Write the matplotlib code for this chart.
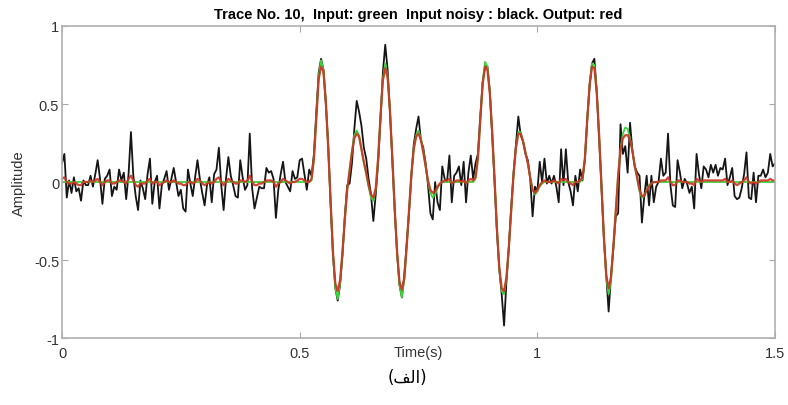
import numpy as np
import matplotlib.pyplot as plt

# sampling of the trace (s)
dt = 0.005

# noisy input (black), one value per sample from 0 to 1.5 s
noisy = [
    0.12, 0.18, -0.10, 0.01, -0.07, 0.03, -0.06, -0.04, -0.12, 0.01,
    -0.02, -0.02, 0.04, -0.03, 0.05, 0.14, 0.02, -0.14, 0.02, 0.04,
    0.08, -0.09, -0.03, -0.05, 0.08, 0.01, 0.06, -0.11, 0.05, 0.32,
    0.04, -0.09, -0.18, 0.01, -0.04, -0.11, 0.05, 0.15, -0.14, 0.00,
    0.04, -0.17, -0.02, 0.02, 0.07, -0.05, 0.02, 0.09, 0.00, -0.09,
    -0.05, -0.17, -0.19, 0.08, -0.01, -0.09, 0.03, 0.14, 0.02, -0.07,
    -0.15, -0.02, 0.03, -0.13, 0.05, 0.08, 0.22, -0.02, -0.18, 0.02,
    0.16, 0.04, -0.02, -0.09, -0.10, 0.14, 0.03, -0.05, -0.02, 0.31,
    -0.04, -0.17, -0.10, -0.03, -0.04, -0.04, 0.09, 0.06, 0.07, 0.02,
    -0.23, -0.05, 0.05, 0.13, 0.00, -0.03, -0.06, 0.07, 0.02, 0.03,
    0.14, 0.15, 0.05, -0.05, 0.08, 0.04, 0.18, 0.45, 0.70, 0.79,
    0.72, 0.50, 0.24, -0.14, -0.46, -0.68, -0.76, -0.66, -0.47, -0.22,
    -0.02, -0.01, 0.12, 0.34, 0.52, 0.45, 0.36, 0.22, 0.15, 0.02,
    -0.08, -0.25, -0.08, 0.12, 0.40, 0.70, 0.88, 0.72, 0.45, 0.14,
    -0.18, -0.46, -0.66, -0.74, -0.60, -0.40, -0.20, 0.04, 0.24, 0.34,
    0.42, 0.27, 0.22, 0.12, -0.02, -0.20, -0.24, 0.00, -0.13, -0.18,
    0.10, 0.02, 0.00, 0.17, -0.13, 0.04, 0.06, 0.10, -0.02, 0.13,
    -0.13, 0.06, 0.17, 0.02, 0.12, 0.18, 0.42, 0.64, 0.74, 0.74,
    0.58, 0.30, 0.00, -0.32, -0.56, -0.72, -0.92, -0.64, -0.42, -0.16,
    0.06, 0.24, 0.42, 0.30, 0.26, 0.18, 0.14, 0.02, -0.22, -0.03,
    -0.06, 0.13, 0.00, 0.15, -0.01, 0.04, -0.01, 0.04, -0.03, -0.13,
    0.21, -0.02, 0.21, 0.00, -0.06, -0.15, 0.04, -0.06, 0.08, 0.01,
    0.14, 0.40, 0.62, 0.76, 0.79, 0.58, 0.28, -0.04, -0.36, -0.60,
    -0.83, -0.60, -0.42, -0.22, -0.20, 0.37, 0.18, 0.23, 0.06, 0.38,
    0.20, 0.10, 0.06, 0.04, -0.26, -0.09, 0.04, -0.15, 0.04, -0.13,
    -0.03, 0.00, 0.15, 0.04, 0.06, 0.31, -0.02, -0.15, -0.16, 0.14,
    0.06, -0.04, 0.02, -0.01, -0.07, -0.03, -0.17, 0.18, 0.05, -0.04,
    0.10, 0.08, 0.03, 0.11, 0.06, 0.11, 0.04, 0.09, 0.08, 0.15,
    -0.02, 0.03, 0.09, -0.09, -0.11, -0.10, -0.04, 0.05, 0.19, -0.10,
    -0.11, 0.06, -0.13, 0.04, 0.04, 0.08, 0.03, 0.06, 0.18, 0.10,
    0.12,
]

# clean input (green): zero outside the window starting at 0.52 s
win_start = 104
clean_win = [
    0.00, 0.01, 0.15, 0.42, 0.68, 0.78, 0.72, 0.52, 0.22, -0.12,
    -0.46, -0.68, -0.75, -0.65, -0.45, -0.24, -0.05, 0.08, 0.20, 0.30,
    0.33, 0.30, 0.21, 0.12, 0.05, -0.03, -0.10, -0.12, -0.05, 0.15,
    0.42, 0.66, 0.76, 0.68, 0.45, 0.15, -0.18, -0.46, -0.66, -0.74,
    -0.63, -0.42, -0.18, 0.05, 0.22, 0.30, 0.33, 0.28, 0.20, 0.10,
    0.00, -0.07, -0.10, -0.08, -0.04, -0.01, 0.00, 0.00, 0.00, 0.00,
    0.00, 0.00, 0.00, 0.00, 0.00, 0.00, 0.00, 0.00, 0.00, 0.00,
    0.02, 0.15, 0.40, 0.64, 0.77, 0.74, 0.58, 0.32, 0.02, -0.30,
    -0.56, -0.70, -0.72, -0.62, -0.42, -0.18, 0.05, 0.22, 0.32, 0.32,
    0.26, 0.19, 0.12, 0.03, -0.05, -0.08, -0.06, -0.03, -0.01, 0.00,
    0.00, 0.00, 0.00, 0.00, 0.00, 0.00, 0.00, 0.00, 0.00, 0.00,
    0.00, 0.00, 0.00, 0.00, 0.00, 0.02, 0.15, 0.40, 0.63, 0.76,
    0.75, 0.58, 0.30, -0.02, -0.36, -0.62, -0.72, -0.63, -0.42, -0.18,
    0.05, 0.21, 0.31, 0.35, 0.34, 0.28, 0.20, 0.10, 0.02, -0.06,
    -0.10, -0.09, -0.05, -0.02, -0.01, 0.00, 0.00,
]

# denoised output (red)
output_pre = [
    0.02, 0.03, 0.00, -0.01, -0.01, 0.00, -0.01, -0.02, -0.02, 0.00,
    0.00, 0.00, 0.01, 0.00, 0.01, 0.02, 0.00, -0.02, 0.00, 0.01,
    0.01, -0.01, -0.01, 0.00, 0.01, 0.01, 0.00, -0.01, 0.02, 0.04,
    0.01, -0.02, -0.03, -0.01, -0.01, -0.01, 0.01, 0.02, -0.01, 0.00,
    0.00, -0.02, -0.01, 0.00, 0.01, 0.00, 0.00, 0.01, 0.00, -0.01,
    -0.01, -0.02, -0.02, 0.00, 0.00, -0.01, 0.00, 0.02, 0.01, -0.01,
    -0.02, -0.01, 0.00, -0.01, 0.00, 0.02, 0.03, 0.00, -0.02, 0.00,
    0.02, 0.01, 0.00, -0.01, -0.01, 0.01, 0.01, 0.00, 0.01, 0.04,
    0.00, -0.02, -0.02, -0.01, -0.01, 0.00, 0.01, 0.01, 0.01, 0.00,
    -0.03, -0.01, 0.00, 0.02, 0.01, 0.00, -0.01, 0.00, 0.00, 0.01,
    0.02, 0.02, 0.01, 0.00,
]
output_win = [
    0.00, 0.02, 0.15, 0.41, 0.66, 0.74, 0.71, 0.52, 0.22, -0.12,
    -0.45, -0.65, -0.70, -0.63, -0.45, -0.24, -0.05, 0.07, 0.19, 0.28,
    0.31, 0.29, 0.21, 0.13, 0.06, -0.02, -0.08, -0.10, -0.04, 0.15,
    0.42, 0.65, 0.73, 0.67, 0.45, 0.15, -0.18, -0.45, -0.64, -0.69,
    -0.62, -0.42, -0.18, 0.05, 0.21, 0.29, 0.31, 0.27, 0.19, 0.10,
    0.01, -0.05, -0.07, -0.06, -0.03, -0.01, 0.00, 0.01, 0.01, 0.02,
    -0.01, 0.00, 0.01, 0.01, 0.00, 0.01, -0.01, 0.01, 0.02, 0.01,
    0.03, 0.15, 0.40, 0.63, 0.74, 0.72, 0.57, 0.32, 0.02, -0.30,
    -0.55, -0.68, -0.70, -0.61, -0.42, -0.18, 0.05, 0.22, 0.31, 0.31,
    0.26, 0.19, 0.12, 0.03, -0.05, -0.07, -0.05, -0.02, 0.00, 0.01,
    0.00, 0.00, 0.00, 0.01, 0.00, -0.01, 0.02, 0.01, 0.02, 0.00,
    -0.01, -0.02, 0.00, 0.00, 0.01, 0.03, 0.15, 0.40, 0.62, 0.74,
    0.73, 0.57, 0.30, -0.02, -0.35, -0.60, -0.68, -0.61, -0.41, -0.18,
    0.04, 0.20, 0.28, 0.30, 0.30, 0.27, 0.20, 0.10, 0.03, -0.05,
    -0.09, -0.09, -0.05, -0.03, -0.01, 0.00, 0.00,
]
output_post = [
    0.00, 0.01, 0.01, 0.01, 0.03, 0.00, -0.02, -0.02, 0.01, 0.01,
    0.00, 0.00, 0.00, -0.01, -0.01, -0.02, 0.02, 0.01, 0.00, 0.01,
    0.01, 0.01, 0.01, 0.01, 0.01, 0.01, 0.01, 0.01, 0.02, 0.00,
    0.00, 0.01, -0.01, -0.02, -0.01, 0.00, 0.01, 0.03, 0.00, -0.01,
    0.00, -0.01, 0.00, 0.01, 0.01, 0.01, 0.01, 0.02, 0.01, 0.01,
]

x_ticks = [0, 0.5, 1, 1.5]
x_ticklabels = ["0", "0.5", "1", "1.5"]
y_ticks = [-1, -0.5, 0, 0.5, 1]
y_ticklabels = ["-1", "-0.5", "0", "0.5", "1"]

noisy = np.array(noisy)
n = len(noisy)
t = np.arange(n) * dt

clean = np.zeros(n)
clean[win_start:win_start + len(clean_win)] = clean_win
output = np.array(output_pre + output_win + output_post)

plt.rcParams["font.family"] = ["Liberation Sans", "DejaVu Sans"]

fig = plt.figure(figsize=(7.88, 4.06), dpi=100)
ax = fig.add_axes([0.0787, 0.165, 0.9048, 0.7685])

ax.plot(t, noisy, color="#151515", lw=1.3)
ax.plot(t, clean, color="#3cd23c", lw=1.3)
ax.plot(t, output, color="#cc3322", lw=1.6, alpha=0.9)

ax.set_xlim(0, 1.5)
ax.set_ylim(-1, 1)
ax.set_xticks(x_ticks)
ax.set_xticklabels(x_ticklabels)
ax.set_yticks(y_ticks)
ax.set_yticklabels(y_ticklabels)

for s in ax.spines.values():
    s.set_color("#b0b0b0")
    s.set_linewidth(1.2)
ax.tick_params(direction="in", top=True, right=True, length=4, width=0.8,
               color="#a8a8a8", labelcolor="#333333", labelsize=10.5)
ax.tick_params(axis="x", pad=6)
ax.tick_params(axis="y", pad=2)

ax.set_title("Trace No. 10,  Input: green  Input noisy : black. Output: red",
             fontsize=10.5, fontweight="bold", pad=6)
ax.set_ylabel("Amplitude", fontsize=10.5, color="#333333", labelpad=6)
# x label sits on the tick label row, as in the original figure
ax.text(0.5, -0.045, "Time(s)", transform=ax.transAxes, ha="center", va="center",
        fontsize=10.5, color="#333333")

# caption (الف), written in visual order with Arabic presentation forms
fig.text(0.517, 0.068, "(\ufed2\ufedf\ufe8d)", ha="center", va="center",
         fontsize=12, family=["DejaVu Sans"])

fig.savefig("out.png", dpi=100, facecolor="white")
